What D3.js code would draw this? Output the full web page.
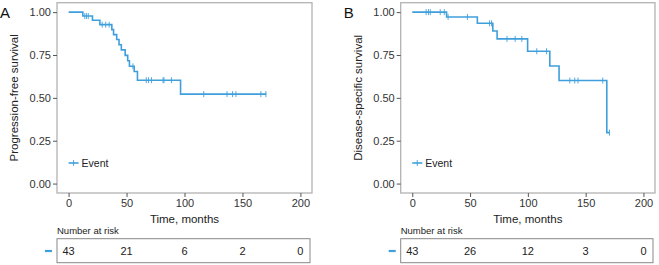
<!DOCTYPE html>
<html>
<head>
<meta charset="utf-8">
<script src="https://cdn.jsdelivr.net/npm/d3@7"></script>
<style>
  body { margin: 0; background: #fff; }
  svg { font-family: "Liberation Sans", Arial, sans-serif; }
  .axis path { display: none; }
  .axis line { stroke: #555; }
  .axis text { fill: #333; font-size: 11px; }
</style>
</head>
<body>
<div id="chart"></div>
<script>
//data
const xTicks = [0, 50, 100, 150, 200];
const yTicks = [0, 0.25, 0.5, 0.75, 1];

// panel A: progression-free survival
const pfsStepTimes = [0, 12.3, 20.6, 27, 37.3, 38.8, 41.5, 43.5, 45.5, 48.8, 51, 52.5, 56.6, 59.4, 96.6];
const pfsStepSurv = [1, 0.977, 0.953, 0.927, 0.898, 0.869, 0.84, 0.81, 0.78, 0.748, 0.716, 0.684, 0.654, 0.603, 0.522];
const pfsEnd = 170.6;
const pfsCensor = [14, 15.5, 17, 29, 32, 35, 55.5, 67, 69, 71.5, 81.5, 82.3, 88.7, 116.6, 136.7, 141.5, 144.4, 165.9, 170.2];
const pfsRisk = [43, 21, 6, 2, 0];

// panel B: disease-specific survival
const dssStepTimes = [0, 29.7, 56.3, 69.7, 73.4, 99.8, 119, 127, 168.3];
const dssStepSurv = [1, 0.972, 0.935, 0.89, 0.844, 0.772, 0.686, 0.601, 0.297];
const dssEnd = 170.6;
const dssCensor = [12, 14, 15.6, 24.2, 27.7, 31, 47.7, 66.9, 68.6, 82, 89, 94.8, 107.7, 116.2, 136.3, 140.6, 143.4, 164.8, 170.6];
const dssRisk = [43, 26, 12, 3, 0];

const color = "#3f9fdc";

const svg = d3.select("#chart").append("svg")
  .attr("width", 659)
  .attr("height", 265);

drawPanel({ left: 57, right: 312, letter: "A", ylab: "Progression-free survival",
  times: pfsStepTimes, surv: pfsStepSurv, end: pfsEnd, censor: pfsCensor, risk: pfsRisk });
drawPanel({ left: 400.7, right: 655, letter: "B", ylab: "Disease-specific survival",
  times: dssStepTimes, surv: dssStepSurv, end: dssEnd, censor: dssCensor, risk: dssRisk });

function drawPanel(p) {
  const top = 2.7, bottom = 193;

  //scale
  const x = d3.scaleLinear().domain([-10, 210]).range([p.left, p.right]);
  const y = d3.scaleLinear().domain([-0.055, 1.055]).range([bottom, top]);

  const g = svg.append("g");

  //frame
  g.append("rect")
    .attr("x", p.left).attr("y", top)
    .attr("width", p.right - p.left).attr("height", bottom - top)
    .attr("fill", "none").attr("stroke", "#b3b3b3").attr("stroke-width", 1.3);

  //axes
  g.append("g").attr("class", "axis")
    .attr("transform", `translate(${p.left},0)`)
    .call(d3.axisLeft(y).tickValues(yTicks).tickFormat(d3.format(".2f")).tickSize(4).tickPadding(2));

  g.append("g").attr("class", "axis")
    .attr("transform", `translate(0,${bottom})`)
    .call(d3.axisBottom(x).tickValues(xTicks).tickSize(4).tickPadding(2));

  g.append("text")
    .attr("x", x(100)).attr("y", 223)
    .attr("text-anchor", "middle")
    .attr("font-size", 11.5).attr("fill", "#222")
    .text("Time, months");

  g.append("text")
    .attr("transform", `translate(${p.left - 43},${(top + bottom) / 2}) rotate(-90)`)
    .attr("text-anchor", "middle")
    .attr("dominant-baseline", "central")
    .attr("font-size", 11.5).attr("fill", "#222")
    .text(p.ylab);

  g.append("text")
    .attr("x", p.left - 57).attr("y", 18)
    .attr("font-size", 15).attr("fill", "#111")
    .text(p.letter);

  //curve
  const pts = p.times.map((t, i) => [t, p.surv[i]]);
  pts.push([p.end, p.surv[p.surv.length - 1]]);

  g.append("path")
    .attr("d", d3.line().x(d => x(d[0])).y(d => y(d[1])).curve(d3.curveStepAfter)(pts))
    .attr("fill", "none").attr("stroke", color).attr("stroke-width", 1.6);

  //censor marks
  const survAt = t => p.surv[d3.bisectRight(p.times, t) - 1];
  g.selectAll("line.censor")
    .data(p.censor)
    .join("line")
    .attr("class", "censor")
    .attr("x1", d => x(d)).attr("x2", d => x(d))
    .attr("y1", d => y(survAt(d)) - 3).attr("y2", d => y(survAt(d)) + 3)
    .attr("stroke", color).attr("stroke-width", 0.9);

  //legend
  const ly = y(0.12);
  g.append("line")
    .attr("x1", x(0)).attr("x2", x(0) + 10).attr("y1", ly).attr("y2", ly)
    .attr("stroke", color).attr("stroke-width", 1.6);
  g.append("line")
    .attr("x1", x(0) + 5).attr("x2", x(0) + 5).attr("y1", ly - 3).attr("y2", ly + 3)
    .attr("stroke", color).attr("stroke-width", 0.9);
  g.append("text")
    .attr("x", x(0) + 13).attr("y", ly)
    .attr("dominant-baseline", "central")
    .attr("font-size", 10.5).attr("fill", "#222")
    .text("Event");

  //risk table
  g.append("text")
    .attr("x", p.left).attr("y", 233.5)
    .attr("font-size", 9.5).attr("fill", "#222")
    .text("Number at risk");

  g.append("rect")
    .attr("x", p.left).attr("y", 238.7)
    .attr("width", p.right - 2 - p.left).attr("height", 24)
    .attr("fill", "none").attr("stroke", "#888").attr("stroke-width", 1);

  g.append("line")
    .attr("x1", p.left - 12).attr("x2", p.left - 5)
    .attr("y1", 251).attr("y2", 251)
    .attr("stroke", color).attr("stroke-width", 2.2);

  g.selectAll("text.risk")
    .data(p.risk)
    .join("text")
    .attr("class", "risk")
    .attr("x", (d, i) => x(xTicks[i]))
    .attr("y", 251)
    .attr("text-anchor", "middle")
    .attr("dominant-baseline", "central")
    .attr("font-size", 11).attr("fill", "#222")
    .text(d => d);
}
</script>
</body>
</html>
